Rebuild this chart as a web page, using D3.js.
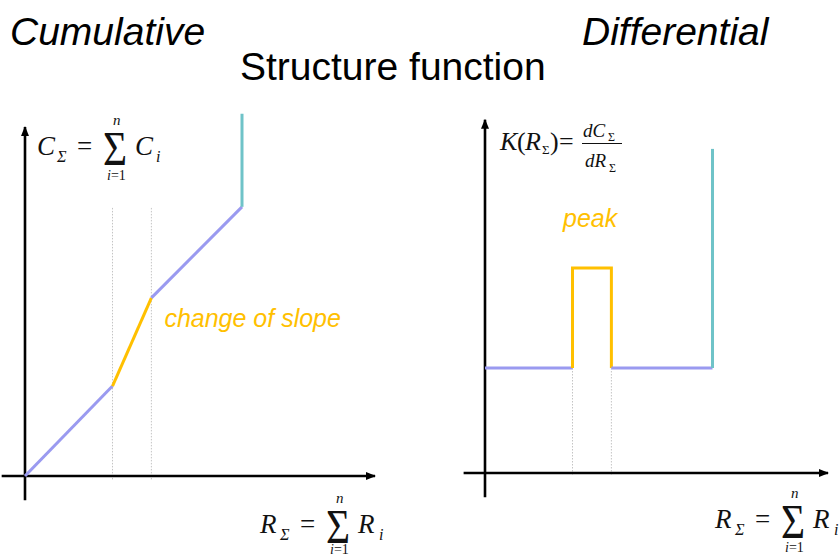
<!DOCTYPE html>
<html>
<head>
<meta charset="utf-8">
<script src="https://cdn.jsdelivr.net/npm/d3@7"></script>
<style>
  html, body { margin: 0; padding: 0; background: #fff; }
  svg { display: block; }
</style>
</head>
<body>
<svg id="chart" width="839" height="558"></svg>
<script>
// Cumulative structure function: breakpoints along R_sigma and C_sigma values
const cumR = [0, 2.25, 3.25, 5.58];
const cumC = [0, 2.57, 5.09, 7.69];
const cumSegments = ["regular", "slope change", "regular"];
const cumTop = 10.35;

// Differential structure function: step levels between the same breakpoints
const diffR = [0, 2.25, 3.25, 5.85];
const diffK = [3.0, 5.86, 3.0];
const diffSegments = ["regular", "slope change", "regular"];
const diffTop = 9.26;

const titles = ["Cumulative", "Differential"];
const mainTitle = "Structure function";
const annotations = ["change of slope", "peak"];

const W = 839, H = 558;
const svg = d3.select("#chart");

const colorOf = d3.scaleOrdinal()
  .domain(["regular", "slope change", "boundary"])
  .range(["#9a9af0", "#ffc000", "#6fc3c8"]);

const defs = svg.append("defs");
defs.append("marker")
  .attr("id", "arrow")
  .attr("viewBox", "0 0 10 8")
  .attr("refX", 9).attr("refY", 4)
  .attr("markerUnits", "userSpaceOnUse")
  .attr("markerWidth", 10).attr("markerHeight", 8)
  .attr("orient", "auto")
  .append("path").attr("d", "M0,0 L10,4 L0,8 Z").attr("fill", "#000");

// ---- Titles
const SANS = "Liberation Sans, Arial, sans-serif";
svg.append("text").attr("x", 10).attr("y", 45)
  .attr("font-family", SANS)
  .attr("font-style", "italic").attr("font-size", 39).text(titles[0]);
svg.append("text").attr("x", 582).attr("y", 45)
  .attr("font-family", SANS)
  .attr("font-style", "italic").attr("font-size", 39).text(titles[1]);
svg.append("text").attr("x", 240).attr("y", 80)
  .attr("font-family", SANS)
  .attr("font-size", 39).text(mainTitle);

// ---- Helpers
function axes(g, x, y, xMin, xMax, yMin, yMax) {
  g.append("line")
    .attr("x1", x(xMin)).attr("x2", x(xMax))
    .attr("y1", y(0)).attr("y2", y(0))
    .attr("stroke", "#000").attr("stroke-width", 2.6)
    .attr("marker-end", "url(#arrow)");
  g.append("line")
    .attr("x1", x(0)).attr("x2", x(0))
    .attr("y1", y(yMin)).attr("y2", y(yMax))
    .attr("stroke", "#000").attr("stroke-width", 2.6)
    .attr("marker-end", "url(#arrow)");
}

function guide(g, x, y, r, c0, c1) {
  g.append("line")
    .attr("x1", x(r)).attr("x2", x(r))
    .attr("y1", y(c0)).attr("y2", y(c1))
    .attr("stroke", "#c4c4c4").attr("stroke-width", 1)
    .attr("stroke-dasharray", "1.5,1.5");
}

function path(g, line, pts, kind) {
  g.append("path")
    .datum(pts)
    .attr("d", line)
    .attr("fill", "none")
    .attr("stroke", colorOf(kind))
    .attr("stroke-width", 3)
    .attr("stroke-linejoin", "miter");
}

const SERIF = "Liberation Serif, Times New Roman, serif";
function t(g, x, y, size, str, italic) {
  return g.append("text").attr("x", x).attr("y", y)
    .attr("font-family", SERIF).attr("font-size", size)
    .attr("font-style", italic ? "italic" : "normal")
    .attr("fill", "#111").text(str);
}
function bigSigma(g, x, y) {
  g.append("text")
    .attr("transform", `translate(${x},${y}) scale(0.88,1.05)`)
    .attr("font-family", SERIF).attr("font-size", 47)
    .attr("fill", "#111").text("Σ");
}
// X = Σ_{i=1}^{n} X_i
function sumFormula(g, ox, oy, letter, lowOffset) {
  t(g, ox, oy, 27, letter, true);
  t(g, ox + 20, oy + 7, 16, "Σ", true);
  t(g, ox + 40, oy, 27, "=", false);
  bigSigma(g, ox + 66, oy + 10);
  t(g, ox + 76, oy - 30, 15, "n", true);
  const lo = t(g, ox + 70, oy + lowOffset, 14, "", false);
  lo.append("tspan").attr("font-style", "italic").text("i");
  lo.append("tspan").text("=1");
  t(g, ox + 98, oy, 27, letter, true);
  t(g, ox + 119, oy + 7, 16, "i", true);
}

// ---- Cumulative panel
const xL = d3.scaleLinear().domain([0, 9]).range([25, 375]);
const yL = d3.scaleLinear().domain([0, 10]).range([476, 126]);
const gL = svg.append("g");
const lineL = d3.line().x(d => xL(d[0])).y(d => yL(d[1]));

guide(gL, xL, yL, cumR[1], 7.66, -0.11);
guide(gL, xL, yL, cumR[2], 7.66, -0.11);
axes(gL, xL, yL, -0.6, 9.0, -0.69, 9.97);

cumSegments.forEach((kind, i) => {
  path(gL, lineL, [[cumR[i], cumC[i]], [cumR[i + 1], cumC[i + 1]]], kind);
});
path(gL, lineL, [[cumR[3], cumC[3]], [cumR[3], cumTop]], "boundary");

gL.append("text")
  .attr("x", xL(cumR[2]) + 13).attr("y", 327)
  .attr("font-family", SANS)
  .attr("font-style", "italic").attr("font-size", 25)
  .attr("fill", colorOf("slope change")).text(annotations[0]);

sumFormula(gL, 37, 155, "C", 25);
sumFormula(gL, 260, 533, "R", 21);

// ---- Differential panel
const xR = d3.scaleLinear().domain([0, 9]).range([485, 835]);
const yR = d3.scaleLinear().domain([0, 10]).range([473, 123]);
const gR = svg.append("g");
const lineR = d3.line().x(d => xR(d[0])).y(d => yR(d[1]));

guide(gR, xR, yR, diffR[1], diffK[0], -0.06);
guide(gR, xR, yR, diffR[2], diffK[2], -0.06);
axes(gR, xR, yR, -0.55, 8.82, -0.69, 10.09);

path(gR, lineR, [[diffR[0], diffK[0]], [diffR[1], diffK[0]]], diffSegments[0]);
path(gR, lineR, [[diffR[1], diffK[0]], [diffR[1], diffK[1]],
                 [diffR[2], diffK[1]], [diffR[2], diffK[2]]], diffSegments[1]);
path(gR, lineR, [[diffR[2], diffK[2]], [diffR[3], diffK[2]]], diffSegments[2]);
path(gR, lineR, [[diffR[3], diffK[2]], [diffR[3], diffTop]], "boundary");

gR.append("text")
  .attr("x", 563).attr("y", 227)
  .attr("font-family", SANS)
  .attr("font-style", "italic").attr("font-size", 25)
  .attr("fill", colorOf("slope change")).text(annotations[1]);

// K(R_Σ) = dC_Σ / dR_Σ
const kf = gR.append("g");
t(kf, 500, 150, 26, "K", true);
t(kf, 517, 150, 26, "(", false);
t(kf, 525, 150, 26, "R", true);
t(kf, 542, 154, 13, "Σ", false);
t(kf, 550, 150, 26, ")", false);
t(kf, 559, 150, 26, "=", false);
t(kf, 583, 137, 19, "dC", true);
t(kf, 608, 141, 12, "Σ", false);
kf.append("line").attr("x1", 582).attr("x2", 622).attr("y1", 143.5).attr("y2", 143.5)
  .attr("stroke", "#111").attr("stroke-width", 1.1);
t(kf, 585, 167, 19, "dR", true);
t(kf, 609, 172, 12, "Σ", false);

sumFormula(gR, 715, 528, "R", 24);
</script>
</body>
</html>
